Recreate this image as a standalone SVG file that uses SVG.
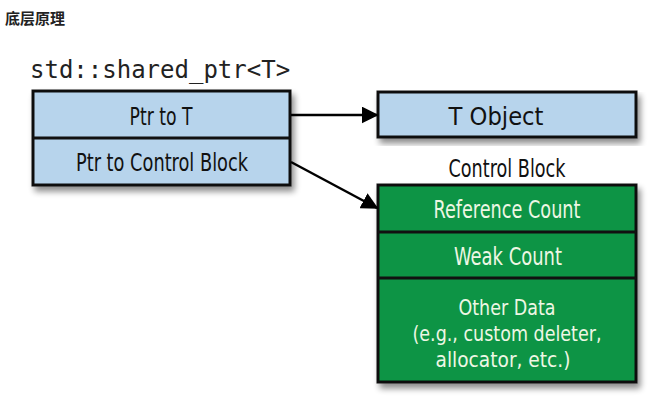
<svg xmlns="http://www.w3.org/2000/svg" width="651" height="400" viewBox="0 0 651 400">
<defs>
<filter id="sh" x="-10%" y="-10%" width="125%" height="130%">
<feGaussianBlur in="SourceAlpha" stdDeviation="3"/>
<feOffset dx="3" dy="5" result="b"/>
<feComponentTransfer><feFuncA type="linear" slope="0.45"/></feComponentTransfer>
<feMerge><feMergeNode/><feMergeNode in="SourceGraphic"/></feMerge>
</filter>
<marker id="arr" viewBox="0 0 10 10" refX="9" refY="5" markerWidth="17" markerHeight="17" markerUnits="userSpaceOnUse" orient="auto">
<path d="M0,0 L10,5 L0,10 Z" fill="#000"/>
</marker>
</defs>
<style>
.blue{fill:#b7d4ec;stroke:#111;stroke-width:3}
.green{fill:#0c9445;stroke:#111;stroke-width:3}
.div{stroke:#111;stroke-width:3}
.lbl{font-family:"DejaVu Sans Condensed","Liberation Sans",sans-serif;font-stretch:condensed;font-size:24px;text-anchor:middle;fill:#111}
.glbl{font-family:"DejaVu Sans Condensed","Liberation Sans",sans-serif;font-stretch:condensed;font-size:24px;text-anchor:middle;fill:#eef7e4}
.sm{font-size:21px}
.conn{stroke:#000;stroke-width:2.5;fill:none}
</style>
<text x="5" y="24" font-family="'Noto Sans CJK SC',sans-serif" font-weight="bold" font-size="15" fill="#222">底层原理</text>
<text x="30" y="78" font-family="'DejaVu Sans Mono','Liberation Mono',monospace" font-size="24" fill="#222">std::shared_ptr&lt;T&gt;</text>
<g id="shared_ptr">
<rect class="blue" x="33" y="91" width="257" height="94" filter="url(#sh)"/>
<line class="div" x1="33" y1="138" x2="290" y2="138"/>
<text class="lbl" x="161" y="125" textLength="63" lengthAdjust="spacingAndGlyphs">Ptr to T</text>
<text class="lbl" x="162" y="171" textLength="172" lengthAdjust="spacingAndGlyphs">Ptr to Control Block</text>
</g>
<g id="t_object">
<rect class="blue" x="378" y="92" width="258" height="45" filter="url(#sh)"/>
<text class="lbl" x="496" y="125" textLength="95" lengthAdjust="spacingAndGlyphs">T Object</text>
</g>
<g id="control_block">
<text class="lbl" x="507" y="177" textLength="117" lengthAdjust="spacingAndGlyphs">Control Block</text>
<rect class="green" x="378" y="185" width="258" height="197" filter="url(#sh)"/>
<line class="div" x1="378" y1="232" x2="636" y2="232"/>
<line class="div" x1="378" y1="278" x2="636" y2="278"/>
<text class="glbl" x="507" y="218" textLength="147" lengthAdjust="spacingAndGlyphs">Reference Count</text>
<text class="glbl" x="508" y="265" textLength="108" lengthAdjust="spacingAndGlyphs">Weak Count</text>
<text class="glbl sm" x="507" y="315" textLength="97" lengthAdjust="spacingAndGlyphs">Other Data</text>
<text class="glbl sm" x="507" y="341" textLength="189" lengthAdjust="spacingAndGlyphs">(e.g., custom deleter,</text>
<text class="glbl sm" x="503" y="367" textLength="135" lengthAdjust="spacingAndGlyphs">allocator, etc.)</text>
</g>
<g id="connectors">
<line class="conn" x1="291" y1="115" x2="377" y2="115" marker-end="url(#arr)"/>
<line class="conn" x1="291" y1="162" x2="377" y2="208" marker-end="url(#arr)"/>
</g>
</svg>
